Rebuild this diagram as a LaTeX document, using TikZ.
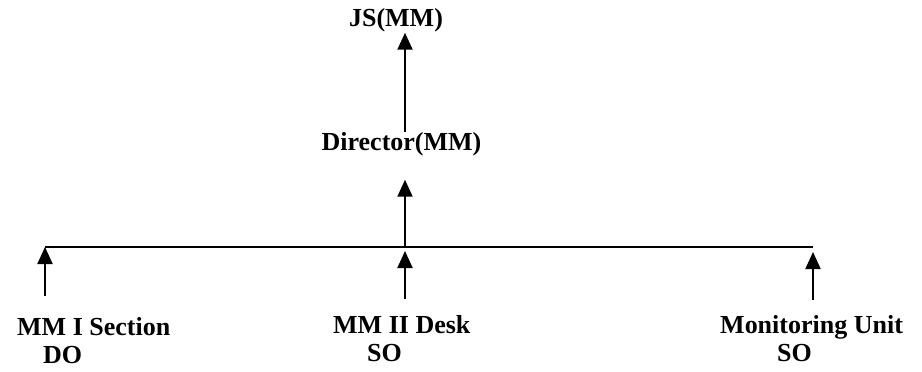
\documentclass[tikz,border=0pt]{standalone}
\usepackage{fontspec}
\setmainfont{Liberation Serif}
\usetikzlibrary{arrows.meta}
\begin{document}
\begin{tikzpicture}[x=1pt,y=1pt,
  lbl/.style={inner sep=0pt,font=\fontsize{26}{28}\selectfont\bfseries},
  arr/.style={line width=2pt,-{Triangle[length=17pt,width=15pt]}},
  ln/.style={line width=2pt}]
\useasboundingbox (0,0) rectangle (922,-372);
\node[lbl,anchor=base] (js) at (396,-27) {JS(MM)};
\node[lbl,anchor=base] (dir) at (401.5,-150) {Director(MM)};
\coordinate (bus) at (405,-247);
\coordinate (busL) at (45,-247);
\coordinate (busR) at (813,-247);
\node[lbl,anchor=north west,align=left] (s1) at (17,-317) {MM I Section\\\hspace*{26pt}DO};
\node[lbl,anchor=north west,align=left] (s2) at (333,-315) {MM II Desk\\\hspace*{34pt}SO};
\node[lbl,anchor=north west,align=left] (s3) at (720,-315) {Monitoring Unit\\\hspace*{57pt}SO};
\coordinate (a1) at (45,-296);
\coordinate (a2) at (405,-299);
\coordinate (a3) at (813,-300);
\draw[arr] (dir.north -| bus) -- (js.south -| bus);
\draw[arr] (bus) -- ([yshift=-24pt]dir.south -| bus);
\draw[ln] (busL) -- (busR);
\draw[arr] (a1) -- (busL);
\draw[arr] (a2) -- ([yshift=-4pt]bus);
\draw[arr] (a3) -- ([yshift=-5pt]busR);
\end{tikzpicture}
\end{document}
